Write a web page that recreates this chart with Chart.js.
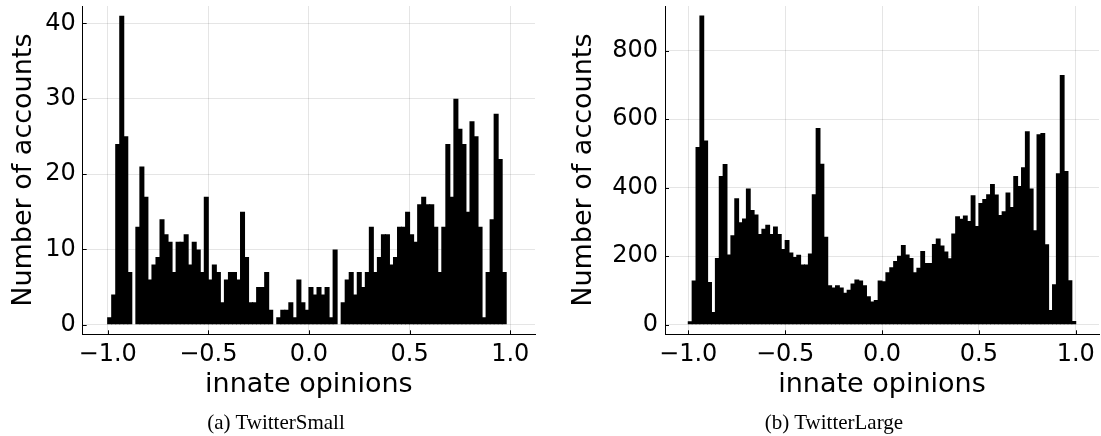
<!DOCTYPE html>
<html>
<head>
<meta charset="utf-8">
<script src="https://cdn.jsdelivr.net/npm/chart.js@4.4.0/dist/chart.umd.min.js"></script>
<style>
  body { margin: 0; background: #fff; width: 1101px; height: 436px; position: relative; overflow: hidden; }
  canvas { position: absolute; top: 0; }
  .caption { position: absolute; top: 412px; width: 300px; text-align: center;
    font-family: "Liberation Serif", serif; font-size: 21px; line-height: 20px; color: #000; }
</style>
</head>
<body>
<canvas id="small" width="550" height="436" style="left:0"></canvas>
<canvas id="large" width="541" height="436" style="left:560px"></canvas>
<div class="caption" style="left:126px">(a) TwitterSmall</div>
<div class="caption" style="left:684px">(b) TwitterLarge</div>
<script>
// histogram bins: 100 bins of width 0.02 over [-1, 1]
var binStart = -1.0, binWidth = 0.02;

// TwitterSmall counts per bin
var smallCounts = [1, 4, 24, 41, 25, 7, 0, 13, 21, 17,
  6, 8, 9, 14, 12, 11, 7, 11, 11, 12,
  8, 11, 10, 7, 17, 6, 8, 7, 3, 6,
  7, 7, 6, 15, 9, 3, 3, 5, 5, 7,
  2, 0, 1, 2, 2, 3, 1, 6, 3, 2,
  5, 4, 5, 4, 5, 1, 10, 0, 3, 6,
  7, 4, 7, 5, 7, 13, 7, 9, 12, 12,
  8, 9, 13, 13, 15, 12, 11, 16, 17, 16,
  16, 13, 7, 13, 24, 17, 30, 26, 24, 15,
  27, 25, 13, 1, 7, 14, 28, 22, 7, 0];

// TwitterLarge counts per bin
var largeCounts = [10, 129, 519, 903, 538, 125, 37, 195, 434, 469,
  205, 261, 369, 299, 310, 398, 335, 322, 265, 280,
  292, 265, 287, 265, 221, 247, 211, 198, 204, 176,
  176, 208, 381, 574, 470, 257, 115, 109, 115, 109,
  93, 102, 120, 132, 129, 115, 83, 68, 72, 129,
  127, 153, 168, 186, 201, 233, 205, 195, 153, 166,
  215, 180, 180, 236, 252, 231, 214, 194, 266, 317,
  309, 319, 303, 378, 288, 355, 367, 381, 411, 380,
  320, 331, 386, 344, 434, 405, 460, 565, 398, 276,
  556, 560, 235, 43, 118, 442, 729, 449, 130, 11];

var xTickValues = [-1, -0.5, 0, 0.5, 1];
var xTickLabels = ['\u22121.0', '\u22120.5', '0.0', '0.5', '1.0'];
var smallYTicks = [0, 10, 20, 30, 40];
var largeYTicks = [0, 200, 400, 600, 800];

var FONT = '"DejaVu Sans", sans-serif';

// short tick marks drawn inward along both axes
var innerTicks = {
  id: 'innerTicks',
  afterDatasetsDraw: function (chart) {
    var ctx = chart.ctx, a = chart.chartArea, x = chart.scales.x, y = chart.scales.y;
    ctx.save();
    ctx.strokeStyle = '#000';
    ctx.lineWidth = 1;
    ctx.beginPath();
    x.ticks.forEach(function (t) {
      var px = Math.round(x.getPixelForValue(t.value)) + 0.5;
      ctx.moveTo(px, a.bottom);
      ctx.lineTo(px, a.bottom - 4);
    });
    y.ticks.forEach(function (t) {
      var py = Math.round(y.getPixelForValue(t.value)) + 0.5;
      ctx.moveTo(a.left, py);
      ctx.lineTo(a.left + 4, py);
    });
    ctx.stroke();
    ctx.restore();
  }
};

// keep the plot box where we put it, no extra room for end labels
function noEdgePadding(s) {
  s.paddingTop = 0;
  s.paddingBottom = 0;
  s.paddingLeft = 0;
  s.paddingRight = 0;
}

function makeHist(id, counts, yTicks, opts) {
  var points = counts.map(function (c, i) {
    return { x: binStart + binWidth * (i + 0.5), y: c };
  });

  return new Chart(document.getElementById(id), {
    type: 'bar',
    data: {
      datasets: [{
        data: points,
        backgroundColor: '#000',
        borderWidth: 0,
        barPercentage: 1.25,
        categoryPercentage: 1
      }]
    },
    options: {
      responsive: false,
      animation: false,
      devicePixelRatio: 1,
      layout: { padding: { top: 6, left: 0, right: opts.padRight, bottom: 31.7 } },
      plugins: { legend: { display: false }, tooltip: { enabled: false } },
      scales: {
        x: {
          type: 'linear',
          min: opts.xMin,
          max: opts.xMax,
          offset: false,
          afterBuildTicks: function (s) {
            s.ticks = xTickValues.map(function (v) { return { value: v }; });
          },
          afterFit: function (s) { s.height = 70; noEdgePadding(s); },
          ticks: {
            autoSkip: false,
            maxRotation: 0,
            padding: 6,
            color: '#000',
            font: { family: FONT, size: 24 },
            callback: function (v, i) { return xTickLabels[i]; }
          },
          grid: { color: 'rgba(0,0,0,0.1)', drawTicks: false, offset: false },
          border: { color: '#000', width: 1 },
          title: {
            display: true,
            text: 'innate opinions',
            color: '#000',
            font: { family: FONT, size: 27 },
            padding: { top: 0, bottom: 3 }
          }
        },
        y: {
          min: opts.yMin,
          max: opts.yMax,
          afterBuildTicks: function (s) {
            s.ticks = yTicks.map(function (v) { return { value: v }; });
          },
          afterFit: function (s) { s.width = opts.yWidth; noEdgePadding(s); },
          ticks: {
            padding: 7,
            color: '#000',
            font: { family: FONT, size: 24 },
            callback: function (v) { return String(v); }
          },
          grid: { color: 'rgba(0,0,0,0.1)', drawTicks: false },
          border: { color: '#000', width: 1 },
          title: {
            display: true,
            text: 'Number of accounts',
            color: '#000',
            font: { family: FONT, size: 27 },
            padding: { top: 8, bottom: 0 }
          }
        }
      }
    },
    plugins: [innerTicks]
  });
}

makeHist('small', smallCounts, smallYTicks, {
  xMin: -1.124, xMax: 1.123, yMin: -1.27, yMax: 42.3, yWidth: 82.7, padRight: 15
});

makeHist('large', largeCounts, largeYTicks, {
  xMin: -1.12, xMax: 1.12, yMin: -28, yMax: 930.5, yWidth: 105, padRight: 2
});
</script>
</body>
</html>
